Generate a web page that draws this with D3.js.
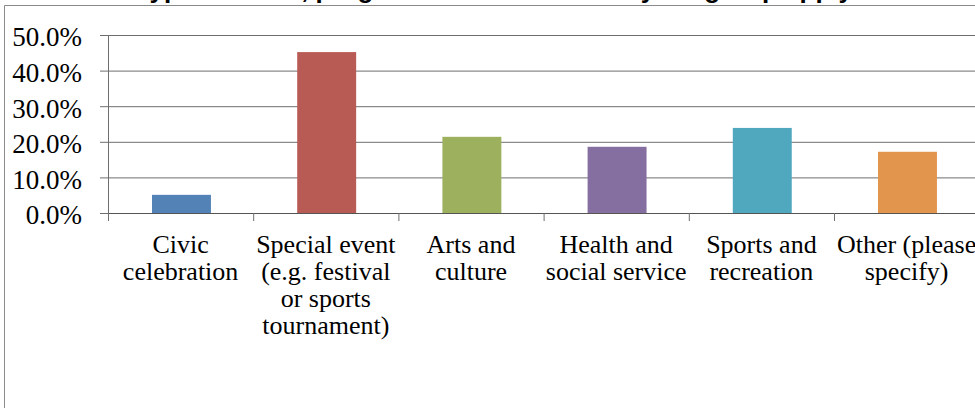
<!DOCTYPE html>
<html>
<head>
<meta charset="utf-8">
<script src="https://cdn.jsdelivr.net/npm/d3@7"></script>
<style>
  html, body { margin: 0; padding: 0; background: #fff; }
  svg { display: block; }
  .tick text { font-family: 'Liberation Serif', serif; }
</style>
</head>
<body>
<svg id="chart" width="975" height="408"></svg>
<script>
const categories = [
  'Civic\ncelebration',
  'Special event\n(e.g. festival\nor sports\ntournament)',
  'Arts and\nculture',
  'Health and\nsocial service',
  'Sports and\nrecreation',
  'Other (please\nspecify)'
];
const values = [5.1, 45.2, 21.4, 18.6, 23.9, 17.2];
const yTicks = [0, 10, 20, 30, 40, 50];
const barColors = ['#5282b6', '#b95b55', '#9cb05e', '#856ea0', '#50a8bf', '#e2954d'];
const title = 'What type of event, program or service would your group apply for?';

const svg = d3.select('#chart');

const plotLeft = 108, plotTop = 35, plotBottom = 213;
const step = 145.2;

let x = d3.scaleBand()
  .domain(categories)
  .range([plotLeft, plotLeft + step * categories.length])
  .padding(0);

let y = d3.scaleLinear().domain([0, 50]).range([plotBottom, plotTop]);

// frame (only top and left edges are in view)
svg.append('path')
  .attr('d', d3.line()([[4.5, 408], [4.5, 5.5], [975, 5.5]]))
  .attr('fill', 'none')
  .attr('stroke', '#8a8a8a');

// title, mostly cut off above the frame
svg.append('text')
  .attr('x', 70)
  .attr('y', -2)
  .attr('font-family', 'Liberation Sans, sans-serif')
  .attr('font-weight', 'bold')
  .attr('font-size', 26)
  .text(title);

// gridlines
let grid = svg.append('g')
  .attr('transform', `translate(${plotLeft},0)`)
  .call(d3.axisLeft(y).tickValues(yTicks).tickSize(-(975 - plotLeft)).tickFormat(''));
grid.select('.domain').remove();
grid.selectAll('line').attr('stroke', '#6e6e6e');

// y axis
let yAxis = svg.append('g')
  .attr('transform', `translate(${plotLeft},0)`)
  .call(d3.axisLeft(y)
    .tickValues(yTicks)
    .tickSize(8)
    .tickPadding(18)
    .tickFormat((d) => d.toFixed(1) + '%'));
yAxis.select('.domain').attr('d', `M0.5,${plotTop}V${plotBottom + 8}`).attr('stroke', '#6e6e6e');
yAxis.selectAll('line').attr('stroke', '#6e6e6e');
yAxis.selectAll('text')
  .attr('font-size', 27)
  .attr('fill', '#000')
  .attr('dy', '0.4em');

// bars
svg.append('g')
  .selectAll('rect')
  .data(values)
  .join('rect')
  .attr('x', (d, i) => x(categories[i]) + x.bandwidth() * 0.303)
  .attr('width', x.bandwidth() * 0.406)
  .attr('y', (d) => y(d))
  .attr('height', (d) => y(0) - y(d))
  .attr('fill', (d, i) => barColors[i]);

// x axis: ticks on category boundaries
let xEdges = d3.scaleLinear().domain([0, categories.length]).range(x.range());
let xAxis = svg.append('g')
  .attr('transform', `translate(0,${plotBottom})`)
  .call(d3.axisBottom(xEdges)
    .tickValues(d3.range(categories.length + 1))
    .tickSize(8)
    .tickFormat(''));
xAxis.select('.domain').attr('d', `M${plotLeft},0.5H975`).attr('stroke', '#555');
xAxis.selectAll('line').attr('stroke', '#6e6e6e');

// category labels
let labels = svg.append('g')
  .attr('font-family', 'Liberation Serif, serif')
  .attr('font-size', 26)
  .attr('text-anchor', 'middle')
  .selectAll('text')
  .data(categories)
  .join('text')
  .attr('x', (d) => x(d) + x.bandwidth() / 2)
  .attr('y', 253);

labels.selectAll('tspan')
  .data((d) => d.split('\n'))
  .join('tspan')
  .attr('x', function () { return this.parentNode.getAttribute('x'); })
  .attr('dy', (d, i) => (i === 0 ? 0 : 27))
  .text((d) => d);
</script>
</body>
</html>
